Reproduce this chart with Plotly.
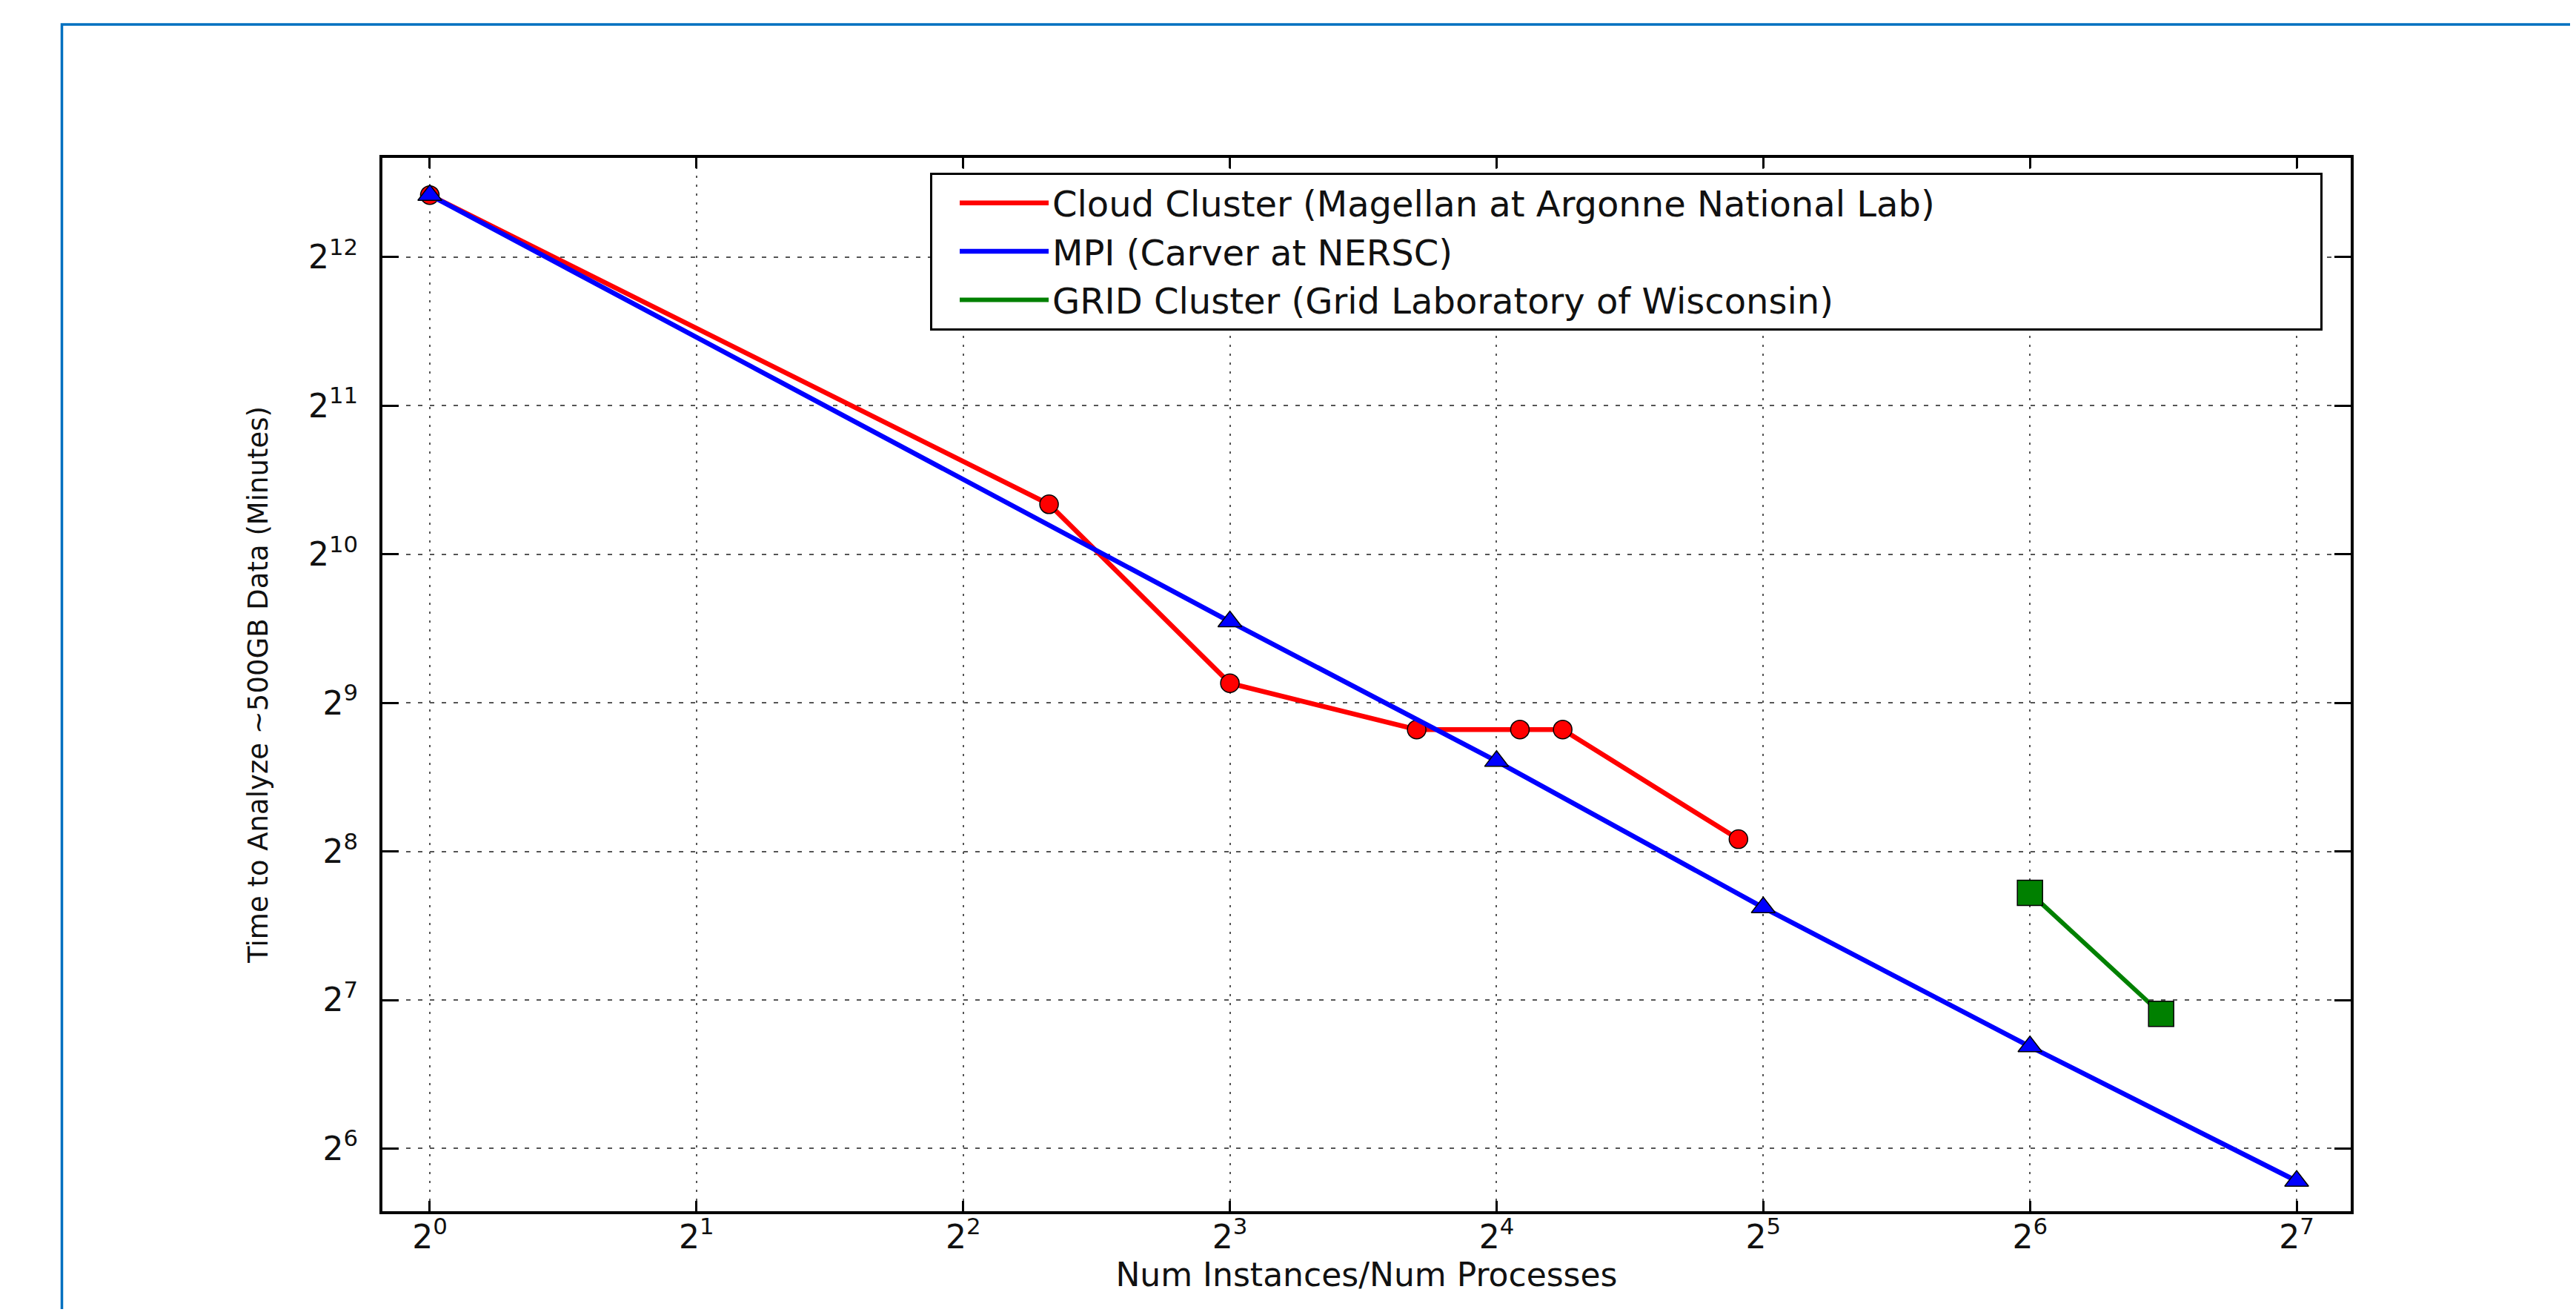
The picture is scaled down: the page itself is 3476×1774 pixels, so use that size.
import plotly.graph_objects as go

# ---------------- data ----------------
cloud_name = "Cloud Cluster (Magellan at Argonne National Lab)"
cloud_x = [1, 5, 8, 13, 17, 19, 30]
cloud_y = [5470, 1293, 561, 452, 452, 452, 271]

mpi_name = "MPI (Carver at NERSC)"
mpi_x = [1, 8, 16, 32, 64, 128]
mpi_y = [5470, 748, 390, 197, 103, 55]

grid_name = "GRID Cluster (Grid Laboratory of Wisconsin)"
grid_x = [64, 90]
grid_y = [211, 120]

x_tick_vals = [1, 2, 4, 8, 16, 32, 64, 128]
x_tick_text = ["2<sup>0</sup>", "2<sup>1</sup>", "2<sup>2</sup>", "2<sup>3</sup>",
               "2<sup>4</sup>", "2<sup>5</sup>", "2<sup>6</sup>", "2<sup>7</sup>"]
y_tick_vals = [64, 128, 256, 512, 1024, 2048, 4096]
y_tick_text = ["2<sup>6</sup>", "2<sup>7</sup>", "2<sup>8</sup>", "2<sup>9</sup>",
               "2<sup>10</sup>", "2<sup>11</sup>", "2<sup>12</sup>"]

x_title = "Num Instances/Num Processes"
y_title = "Time to Analyze ~500GB Data (Minutes)"

# ---------------- styling ----------------
FONT = "DejaVu Sans"
BODY = 8                      # default page margin of the browser
W, H = 3476 - 2 * BODY, 1774 - 2 * BODY
PLOT_L, PLOT_R, PLOT_T, PLOT_B = 516, 3172, 213, 1634   # plot area in window px
ML = PLOT_L - BODY
MT = PLOT_T - BODY
MR = W - ML - (PLOT_R - PLOT_L)
MB = H - MT - (PLOT_B - PLOT_T)
PW, PH = PLOT_R - PLOT_L, PLOT_B - PLOT_T

series = [
    (cloud_name, cloud_x, cloud_y, "#ff0000", 6.5, "circle", 25),
    (mpi_name, mpi_x, mpi_y, "#0000ff", 6.5, "triangle-up", 28),
    (grid_name, grid_x, grid_y, "#008000", 6, "square", 34),
]

fig = go.Figure()
for name, xs, ys, color, lw, sym, msize in series:
    fig.add_trace(go.Scatter(
        x=xs, y=ys, mode="lines", name=name,
        line=dict(color=color, width=lw),
        showlegend=True,
    ))
    fig.add_trace(go.Scatter(
        x=xs, y=ys, mode="markers", name=name,
        marker=dict(color=color, symbol=sym, size=msize,
                    line=dict(color="black", width=1.5)),
        showlegend=False,
    ))

LOG2 = 0.30102999566
fig.update_xaxes(
    type="log",
    range=[-0.1778 * LOG2, 7.2027 * LOG2],
    tickvals=x_tick_vals, ticktext=x_tick_text,
    tickfont=dict(family=FONT, size=44, color="#111111"),
    ticks="inside", ticklen=14, tickwidth=2.5, tickcolor="black",
    showline=True, linecolor="black", linewidth=4, mirror="ticks",
    showgrid=True, gridcolor="#555555", gridwidth=2, griddash="3px,9px",
    zeroline=False,
    title=dict(text=x_title, font=dict(family=FONT, size=44, color="#111111"), standoff=0),
    ticklabelstandoff=-7,
)
fig.update_yaxes(
    type="log",
    range=[5.578 * LOG2, 12.668 * LOG2],
    tickvals=y_tick_vals, ticktext=y_tick_text,
    tickfont=dict(family=FONT, size=44, color="#111111"),
    ticks="inside", ticklen=22, tickwidth=2.5, tickcolor="black",
    showline=True, linecolor="black", linewidth=4, mirror="ticks",
    showgrid=True, gridcolor="#555555", gridwidth=2, griddash="6px,10px",
    zeroline=False,
    title=dict(text=y_title, font=dict(family=FONT, size=37, color="#111111"), standoff=44),
    ticklabelstandoff=20,
)

fig.update_layout(
    width=W, height=H,
    margin=dict(l=ML, r=MR, t=MT, b=MB, pad=0, autoexpand=False),
    paper_bgcolor="white", plot_bgcolor="white",
    font=dict(family=FONT, color="#111111"),
    legend=dict(
        x=(1255 - PLOT_L) / PW, y=1 - (233 - PLOT_T) / PH,
        xanchor="left", yanchor="top",
        orientation="h", entrywidthmode="pixels", entrywidth=1706,
        indentation=32,
        bgcolor="white", bordercolor="black", borderwidth=3,
        font=dict(family=FONT, size=48, color="#111111"),
        itemwidth=120, tracegroupgap=0,
    ),
    shapes=[
        dict(type="rect", xref="paper", yref="paper",
             x0=(83.5 - PLOT_L) / PW, x1=1.3,
             y0=-0.3, y1=1 + (PLOT_T - 33) / PH,
             line=dict(color="#0070c0", width=3.5), fillcolor="rgba(0,0,0,0)",
             layer="below"),
    ],
)

fig.write_html("out.html")
